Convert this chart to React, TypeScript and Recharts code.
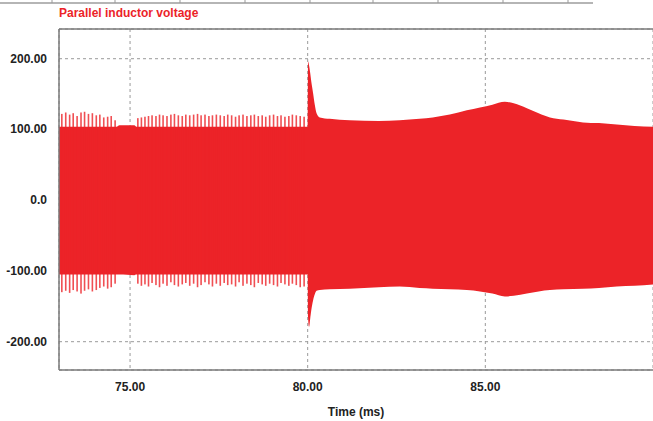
import React from 'react';
import { ComposedChart, Area, Bar, XAxis, YAxis, CartesianGrid, ReferenceLine, Label } from 'recharts';

// envelope of the oscillation (ms, V)
const envTime = [73.0, 74.62, 74.7, 75.12, 75.18, 79.99, 80.0, 80.01, 80.04, 80.07, 80.1, 80.15, 80.2, 80.25, 80.34, 80.62, 81.18, 82.0, 82.59, 83.15, 83.52, 84.0, 84.48, 84.85, 85.2, 85.55, 85.8, 86.17, 86.5, 86.82, 87.2, 87.75, 88.2, 88.7, 89.2, 89.72];
const envHigh = [104, 104, 106, 106, 104, 104, 104, 196, 190, 180, 168, 152, 135, 123, 117, 115, 113, 112, 113, 115, 117, 121, 127, 131, 135, 139, 137, 130, 123, 117, 114, 110, 109, 107, 105, 104];
const envLow = [-105, -105, -105, -106, -105, -105, -105, -165, -179, -168, -156, -142, -133, -128, -127, -126, -125, -123, -122, -124, -125, -126, -127, -129, -132, -136, -135, -132, -129, -127, -126, -125, -124, -122, -121, -119];

// single cycle peaks before the switching event at 80 ms
const spikeTime = [
  73.08, 73.19, 73.3, 73.4, 73.51, 73.62, 73.72, 73.83, 73.94, 74.05, 74.15, 74.26, 74.37, 74.47, 74.58,
  75.22, 75.32, 75.42, 75.52, 75.62, 75.73, 75.83, 75.93, 76.04, 76.15, 76.25, 76.36, 76.47, 76.57, 76.68,
  76.79, 76.9, 77.0, 77.11, 77.22, 77.32, 77.43, 77.54, 77.65, 77.75, 77.86, 77.97, 78.07, 78.18, 78.29,
  78.4, 78.5, 78.61, 78.72, 78.82, 78.93, 79.04, 79.15, 79.25, 79.36, 79.47, 79.57, 79.68, 79.79, 79.9,
];
const spikeTop = [
  122, 124, 121, 123, 119, 124, 125, 122, 123, 120, 121, 117, 118, 119, 113,
  116, 117, 118, 119, 120, 119, 121, 120, 119, 121, 122, 120, 119, 121, 120,
  121, 122, 120, 121, 119, 120, 121, 120, 119, 121, 120, 118, 120, 121, 119,
  120, 121, 119, 120, 118, 120, 121, 119, 120, 118, 119, 121, 120, 119, 118,
];
const spikeBottom = [
  -130, -128, -131, -127, -129, -132, -128, -126, -129, -127, -124, -122, -125, -123, -118,
  -118, -121, -119, -122, -117, -120, -123, -118, -121, -116, -120, -122, -119, -117, -121,
  -118, -123, -120, -116, -119, -122, -118, -121, -117, -120, -119, -122, -116, -121, -118,
  -120, -123, -117, -119, -121, -118, -120, -122, -117, -119, -121, -118, -120, -123, -122,
];

const xTicks = [75, 80, 85];
const yTicks = [-200, -100, 0, 100, 200];

const RED = '#ec2328';
const FONT = '"Liberation Sans", Arial, sans-serif';

const envData = envTime.map((t, i) => ({ t, hi: envHigh[i], lo: envLow[i] }));
const spikeData = spikeTime.map((t, i) => ({ t, up: spikeTop[i], dn: spikeBottom[i] }));

const YTick = ({ y, payload }: any) => (
  <text x={47} y={y} dy={4} textAnchor="end" fontSize={12} fontWeight="bold" fill="#222" fontFamily={FONT}>
    {payload.value === 0 ? '0.0' : payload.value.toFixed(2)}
  </text>
);

const XTick = ({ x, payload }: any) => (
  <text x={x} y={391} textAnchor="middle" fontSize={12} fontWeight="bold" fill="#222" fontFamily={FONT}>
    {payload.value.toFixed(2)}
  </text>
);

const XLabel = ({ viewBox }: any) => (
  <text x={viewBox.x + viewBox.width / 2} y={416} textAnchor="middle" fontSize={12} fontWeight="bold" fill="#222" fontFamily={FONT}>
    Time (ms)
  </text>
);

// thin vertical stroke centred on the bar slot the library computes
const SpikeShape = (p: any) => {
  const top = Math.min(p.y, p.y + p.height);
  const h = Math.abs(p.height);
  return <rect x={p.x + p.width / 2 - 0.8} y={top} width={1.6} height={h} fill={RED} fillOpacity={0.8} />;
};

export default function App() {
  return (
    <div style={{ position: 'relative', width: 653, height: 421, background: '#fff', fontFamily: FONT }}>
      <style>{'body{margin:0;overflow:hidden}'}</style>
      <svg width={653} height={6} style={{ position: 'absolute', left: 0, top: 0 }}>
        <line x1={0} y1={3} x2={593} y2={3} stroke="#b5b5b5" strokeWidth={2} />
        {[52, 115, 180, 245, 310, 373, 438, 503, 568].map((x) => (
          <line key={x} x1={x} y1={0} x2={x} y2={3} stroke="#999" strokeWidth={1} />
        ))}
      </svg>
      <div style={{ position: 'absolute', left: 59, top: 6, fontSize: 12, fontWeight: 'bold', color: RED, lineHeight: '14px', zIndex: 2 }}>
        Parallel inductor voltage
      </div>
      <ComposedChart width={653} height={421} data={spikeData} margin={{ top: 29, right: 0, bottom: 0, left: 0 }}>
        <CartesianGrid stroke="#9a9a9a" strokeDasharray="3 3" />
        <XAxis
          dataKey="t"
          type="number"
          domain={[73.0, 89.72]}
          ticks={xTicks}
          allowDataOverflow
          height={51}
          tickLine={false}
          axisLine={{ stroke: '#7a7a7a', strokeWidth: 1.5 }}
          tick={<XTick />}
        >
          <Label content={<XLabel />} />
        </XAxis>
        <YAxis
          type="number"
          domain={[-240, 242]}
          ticks={yTicks}
          allowDataOverflow
          width={59}
          tickLine={false}
          axisLine={{ stroke: '#7a7a7a', strokeWidth: 1.5 }}
          tick={<YTick />}
        />
        <ReferenceLine y={242} stroke="#7a7a7a" strokeWidth={1.5} />
        <Area
          data={envData}
          type="monotone"
          dataKey={(r: any) => [r.lo, r.hi]}
          stroke="none"
          fill={RED}
          fillOpacity={1}
          isAnimationActive={false}
        />
        <Bar
          dataKey={(r: any) => [r.dn, r.up]}
          barSize={2}
          fill={RED}
          shape={SpikeShape}
          isAnimationActive={false}
        />
      </ComposedChart>
    </div>
  );
}
